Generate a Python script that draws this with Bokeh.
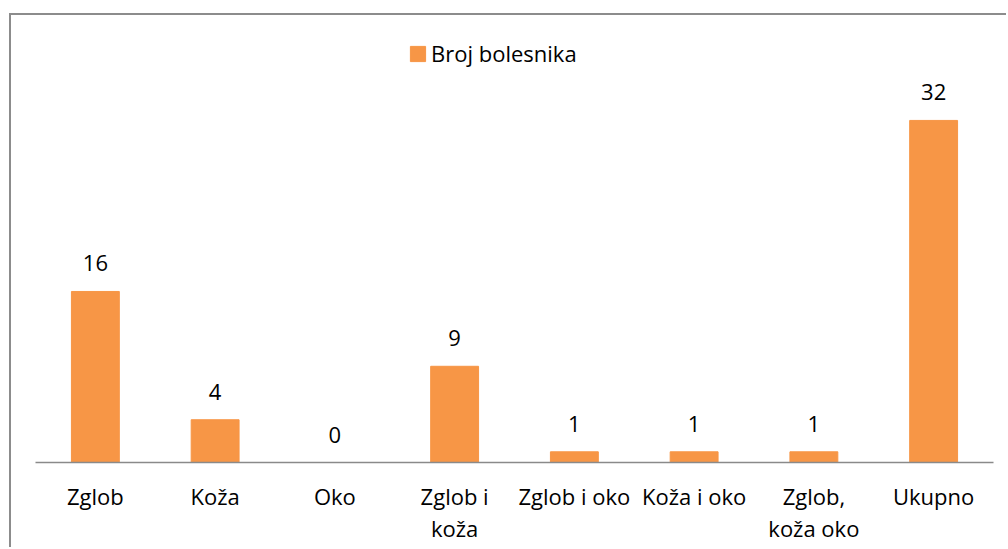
from bokeh.plotting import figure
from bokeh.models import ColumnDataSource, Legend, LegendItem, Range1d, FactorRange
from bokeh.core.properties import value
from bokeh.embed import file_html
from bokeh.resources import INLINE

categories = ["Zglob", "Koža", "Oko", "Zglob i\nkoža", "Zglob i oko", "Koža i oko", "Zglob,\nkoža oko", "Ukupno"]
counts = [16, 4, 0, 9, 1, 1, 1, 32]
series_name = "Broj bolesnika"

FONT = "Open Sans"
BAR = "#F79646"

src = ColumnDataSource(dict(cat=categories, val=counts, lbl=[str(v) for v in counts]))

p = figure(width=997, height=534, x_range=FactorRange(*categories, range_padding=0),
           y_range=Range1d(0, 40.6), output_backend="svg", toolbar_location=None,
           min_border_left=24, min_border_right=15, min_border_top=13, min_border_bottom=87)
p.styles = {"margin-left": "9px", "margin-top": "13px",
            "border-left": "2px solid #8c8c8c", "border-top": "2px solid #8c8c8c"}
p.outline_line_color = None
p.grid.visible = False
p.yaxis.visible = False

bars = p.vbar(x="cat", top="val", width=0.4, source=src, fill_color=BAR, line_color=BAR)
p.text(x="cat", y="val", text="lbl", source=src, text_align="center", text_baseline="alphabetic",
       y_offset=-28, text_font=value(FONT), text_font_size="22px", text_color="#000000")

ax = p.xaxis[0]
ax.axis_line_color = "#8a8a8a"
ax.axis_line_width = 1.5
ax.major_tick_line_color = None
ax.minor_tick_line_color = None
ax.major_label_text_font = FONT
ax.major_label_text_font_size = "22px"
ax.major_label_text_color = "#000000"
ax.major_label_standoff = 12
ax.major_label_text_line_height = 1.07

legend = Legend(items=[LegendItem(label=series_name, renderers=[bars])], location=(373, 394),
                padding=0, margin=0, spacing=0, border_line_color=None, background_fill_alpha=0,
                glyph_width=19, glyph_height=19, label_height=30, label_standoff=4,
                label_text_font=FONT, label_text_font_size="22px", label_text_color="#000000")
p.add_layout(legend, "center")

open("out.html", "w").write(file_html(p, INLINE))
